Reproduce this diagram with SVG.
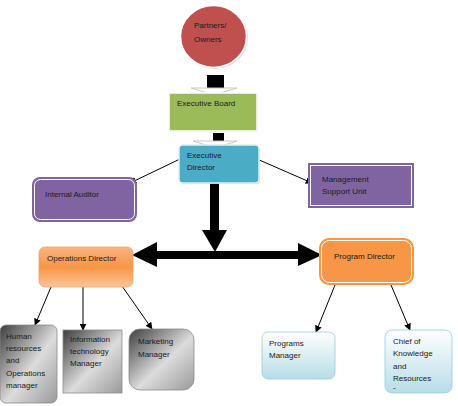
<svg xmlns="http://www.w3.org/2000/svg" width="458" height="406" viewBox="0 0 458 406">
<defs>
<style>
text{font-family:"Liberation Sans",Arial,sans-serif;font-size:8px;fill:#1a1a1a}
.conn{stroke:#000;stroke-width:1;fill:none}
.shadow{fill:#bfbfbf;opacity:0.6}
</style>
<marker id="ah" viewBox="0 0 10 10" refX="9" refY="5" markerWidth="7" markerHeight="7" orient="auto" markerUnits="userSpaceOnUse">
<path d="M0,0 L10,5 L0,10 z" fill="#000"/>
</marker>
<linearGradient id="orangeG" x1="0" y1="0" x2="0" y2="1">
<stop offset="0" stop-color="#f9b384"/>
<stop offset="0.5" stop-color="#f79646"/>
<stop offset="1" stop-color="#fbc49a"/>
</linearGradient>
<linearGradient id="grayG" x1="0" y1="0" x2="1" y2="1">
<stop offset="0" stop-color="#3c3c3c"/>
<stop offset="0.55" stop-color="#dcdcdc"/>
<stop offset="1" stop-color="#9a9a9a"/>
</linearGradient>
<linearGradient id="blueG" x1="0" y1="0" x2="0" y2="1">
<stop offset="0" stop-color="#ffffff"/>
<stop offset="1" stop-color="#b7dde8"/>
</linearGradient>
</defs>

<g id="connectors">
<!-- block arrow ellipse -> board -->
<rect x="207" y="75" width="17" height="15" fill="#000"/>
<path d="M191,88 L237,88 L214,95 z" fill="#fff" stroke="#c8c8c8" stroke-width="1"/>
<!-- block arrow board -> exec director -->
<rect x="213" y="133" width="11" height="9" fill="#000"/>
<path d="M193,141 L237,141 L215,148 z" fill="#fff" stroke="#c8c8c8" stroke-width="1"/>
<!-- main vertical arrow -->
<rect x="210" y="183" width="9" height="48" fill="#000"/>
<path d="M202,230 L227,230 L215,252 z" fill="#000"/>
<!-- horizontal double arrow -->
<rect x="156" y="251" width="143" height="8" fill="#000"/>
<path d="M157,242 L132,255 L157,267 z" fill="#000"/>
<path d="M298,243 L322,255 L298,266 z" fill="#000"/>
<!-- thin arrows -->
<line class="conn" x1="180" y1="159" x2="130" y2="183" marker-end="url(#ah)"/>
<line class="conn" x1="257" y1="159" x2="312" y2="183" marker-end="url(#ah)"/>
<line class="conn" x1="51" y1="287" x2="35" y2="325" marker-end="url(#ah)"/>
<line class="conn" x1="83" y1="287" x2="83" y2="330" marker-end="url(#ah)"/>
<line class="conn" x1="122" y1="286" x2="152" y2="329" marker-end="url(#ah)"/>
<line class="conn" x1="335" y1="285" x2="316" y2="332" marker-end="url(#ah)"/>
<line class="conn" x1="391" y1="285" x2="410" y2="330" marker-end="url(#ah)"/>
</g>

<g id="partners">
<ellipse cx="214.5" cy="37.5" rx="33.5" ry="31.5" class="shadow"/>
<ellipse cx="213.5" cy="36.5" rx="33" ry="31" fill="#c0504d" stroke="#fff" stroke-width="1.5"/>
<text x="194" y="28">Partners/</text>
<text x="194" y="42">Owners</text>
</g>

<g id="executive-board">
<rect x="170" y="94" width="88" height="38" class="shadow"/>
<rect x="169" y="93" width="88" height="38" fill="#9bbb59" stroke="#fff" stroke-width="1.5"/>
<text x="177" y="106">Executive Board</text>
</g>

<g id="executive-director">
<rect x="180" y="146" width="80" height="38" rx="4" class="shadow"/>
<rect x="179" y="145" width="80" height="38" rx="4" fill="#4bacc6" stroke="#ddeef3" stroke-width="1.5"/>
<text x="187" y="158">Executive</text>
<text x="187" y="170">Director</text>
</g>

<g id="internal-auditor">
<rect x="32" y="177" width="105" height="45" rx="8" fill="#8064a2"/>
<rect x="34.5" y="179.5" width="100" height="40" rx="6" fill="none" stroke="#fff" stroke-width="1"/>
<text x="45" y="197">Internal Auditor</text>
</g>

<g id="management-support">
<rect x="308" y="163" width="106" height="45" fill="#8064a2"/>
<rect x="310.5" y="165.5" width="101" height="40" fill="none" stroke="#fff" stroke-width="1"/>
<text x="322" y="182">Management</text>
<text x="322" y="194">Support Unit</text>
</g>

<g id="operations-director">
<rect x="39" y="247" width="94" height="40" rx="6" fill="url(#orangeG)" stroke="#f7a163" stroke-width="0.8"/>
<text x="47" y="261">Operations Director</text>
</g>

<g id="program-director">
<rect x="319" y="238" width="95" height="47" rx="10" fill="#f79646"/>
<rect x="321.5" y="240.5" width="90" height="42" rx="8" fill="none" stroke="#fff" stroke-width="1"/>
<text x="334" y="259">Program Director</text>
</g>

<g id="hr-manager">
<rect x="0" y="325" width="57" height="78" rx="6" fill="url(#grayG)" stroke="#8c8c8c" stroke-width="0.8"/>
<text x="6" y="339">Human</text>
<text x="6" y="351">resources</text>
<text x="6" y="363">and</text>
<text x="6" y="376">Operations</text>
<text x="6" y="388">manager</text>
</g>

<g id="it-manager">
<rect x="63" y="330" width="59" height="63" fill="url(#grayG)" stroke="#8c8c8c" stroke-width="0.8"/>
<text x="70" y="342">Information</text>
<text x="70" y="354">technology</text>
<text x="70" y="366">Manager</text>
</g>

<g id="marketing-manager">
<rect x="129" y="329" width="65" height="61" rx="11" fill="url(#grayG)" stroke="#8c8c8c" stroke-width="0.8"/>
<text x="138" y="344">Marketing</text>
<text x="138" y="357">Manager</text>
</g>

<g id="programs-manager">
<rect x="262" y="332" width="73" height="47" rx="6" fill="url(#blueG)" stroke="#93cddd" stroke-width="0.8"/>
<text x="269" y="346">Programs</text>
<text x="269" y="358">Manager</text>
</g>

<g id="chief-knowledge">
<rect x="385" y="330" width="67" height="63" rx="7" fill="url(#blueG)" stroke="#93cddd" stroke-width="0.8"/>
<text x="393" y="344">Chief of</text>
<text x="393" y="356">Knowledge</text>
<text x="393" y="369">and</text>
<text x="393" y="381">Resources</text>
<text x="393" y="390">-</text>
</g>
</svg>
